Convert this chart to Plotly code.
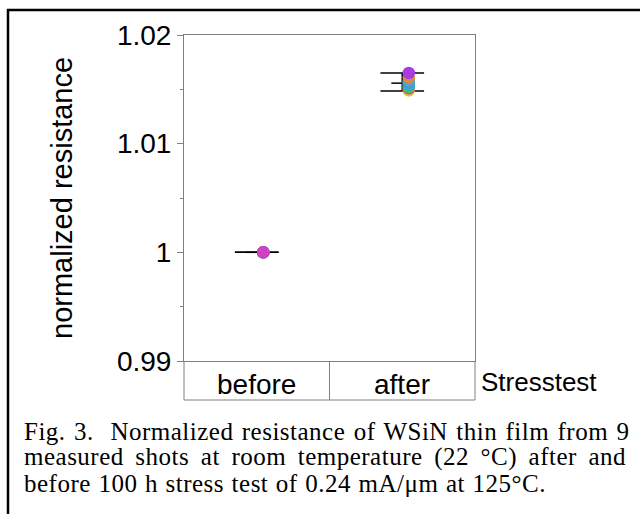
import plotly.graph_objects as go
import numpy as np

categories = ["before", "after"]
series_colors = ["#d6c832", "#5cbf45", "#26b3a2", "#3cb4d6", "#4a8fe0",
                 "#55a3cf", "#e08a38", "#a63ce2", "#d03fc4"]
before_vals = [1.0, 1.0, 1.0, 1.0, 1.0, 1.0, 1.0, 1.0, 1.0]
after_vals = [1.0149, 1.0152, 1.0154, 1.0155, 1.0156, 1.0158, 1.0161, 1.0165, 1.0151]
bar_mean = [1.0, 1.01557]
bar_upper = [1.0, 1.0165]
bar_lower = [1.0, 1.01485]
ytick_vals = [0.99, 1.0, 1.01, 1.02]
ytick_text = ["0.99", "1", "1.01", "1.02"]
yminor_vals = [0.995, 1.005, 1.015]
y_title = "normalized resistance"
x_title = "Stresstest"
caption_lines = [
    "Fig. 3.  Normalized resistance of WSiN thin film from 9",
    "measured shots at room temperature (22 °C) after and",
    "before 100 h stress test of 0.24 mA/μm at 125°C.",
]
caption_word_spacing = [1.6, 4.8, 0.8]

W, H = 640, 514
L, R, T, B = 184, 475, 35, 361
def px(p):
    return (p - L) / (R - L)
def py(p):
    return (B - p) / (B - T)

GRAY = "#808080"
fig = go.Figure()

half_w = 0.15
for i, c in enumerate(categories):
    for v in (bar_upper[i], bar_lower[i]):
        fig.add_trace(go.Scatter(x=[i - half_w, i + half_w], y=[v, v], mode="lines",
                                 line=dict(color="black", width=1.5), hoverinfo="skip", showlegend=False))
    fig.add_trace(go.Scatter(x=[i - half_w / 2, i + half_w / 2], y=[bar_mean[i], bar_mean[i]], mode="lines",
                             line=dict(color="black", width=1.5), hoverinfo="skip", showlegend=False))
    fig.add_trace(go.Scatter(x=[i, i], y=[bar_lower[i], bar_upper[i]], mode="lines",
                             line=dict(color="black", width=1.5), hoverinfo="skip", showlegend=False))

offset = 0.045
fig.add_trace(go.Scatter(x=[0 + offset] * len(before_vals), y=before_vals, mode="markers",
                         marker=dict(size=12.5, color=series_colors, line=dict(width=0)),
                         showlegend=False))
order = np.argsort(after_vals)
fig.add_trace(go.Scatter(x=[1 + offset] * len(after_vals), y=[after_vals[k] for k in order], mode="markers",
                         marker=dict(size=12.5, color=[series_colors[k] for k in order], line=dict(width=0)),
                         showlegend=False))

shapes = []
line_g = dict(color=GRAY, width=1)
shapes.append(dict(type="line", xref="paper", yref="paper", x0=0, x1=1, y0=py(400), y1=py(400), line=line_g))
shapes.append(dict(type="line", xref="paper", yref="paper", x0=0, x1=0, y0=0, y1=py(400), line=line_g))
shapes.append(dict(type="line", xref="paper", yref="paper", x0=1, x1=1, y0=0, y1=py(400), line=line_g))
shapes.append(dict(type="line", xref="x", yref="paper", x0=0.5, x1=0.5, y0=0, y1=py(400), line=line_g))
shapes.append(dict(type="line", xref="paper", yref="paper", x0=px(7), x1=px(641), y0=py(10), y1=py(10),
                   line=dict(color="black", width=2.5)))
shapes.append(dict(type="line", xref="paper", yref="paper", x0=px(8), x1=px(8), y0=py(9), y1=py(515),
                   line=dict(color="black", width=2.5)))

annotations = []
for i, c in enumerate(categories):
    annotations.append(dict(x=i, y=py(384), xref="x", yref="paper", text=c, showarrow=False,
                            xanchor="center", yanchor="middle",
                            font=dict(family="Liberation Sans", size=28, color="black")))
annotations.append(dict(x=px(479), y=py(382), xref="paper", yref="paper", text=x_title, showarrow=False,
                        xanchor="left", yanchor="middle",
                        font=dict(family="Liberation Sans", size=26, color="black")))
annotations.append(dict(x=px(62), y=py(198), xref="paper", yref="paper", text=y_title, showarrow=False,
                        textangle=-90, xanchor="center", yanchor="middle",
                        font=dict(family="Liberation Sans", size=29, color="black")))
for t, yc, ws in zip(caption_lines, [431, 457, 483], caption_word_spacing):
    styled = '<span style="letter-spacing:0.5px;word-spacing:%.1fpx">%s</span>' % (ws, t)
    annotations.append(dict(x=px(22), y=py(yc), xref="paper", yref="paper", text=styled, showarrow=False,
                            xanchor="left", yanchor="middle",
                            font=dict(family="Liberation Serif", size=25, color="black")))

fig.update_layout(
    width=W, height=H,
    margin=dict(l=L, r=W - R, t=T, b=H - B, pad=0),
    paper_bgcolor="white", plot_bgcolor="white",
    xaxis=dict(range=[-0.5, 1.5], showgrid=False, zeroline=False, showticklabels=False,
               ticks="", showline=True, linecolor=GRAY, linewidth=1, mirror=True, fixedrange=True),
    yaxis=dict(range=[0.99, 1.02], showgrid=False, zeroline=False, tickvals=ytick_vals, ticktext=ytick_text,
               ticks="outside", ticklen=6, tickcolor=GRAY, tickwidth=1,
               minor=dict(tickvals=yminor_vals, ticks="outside", ticklen=3, tickcolor=GRAY),
               tickfont=dict(family="Liberation Sans", size=28, color="black"),
               showline=True, linecolor=GRAY, linewidth=1, mirror=True, fixedrange=True),
    shapes=shapes, annotations=annotations,
)

fig.write_html("out.html", config={"displayModeBar": False})
